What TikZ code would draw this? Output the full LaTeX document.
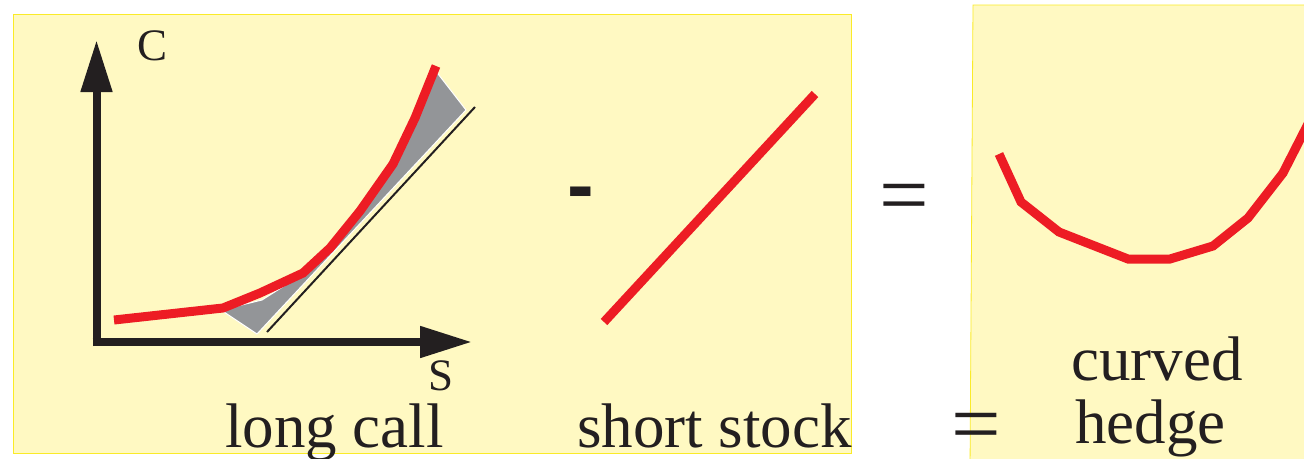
\documentclass[tikz,border=0pt]{standalone}
\usepackage{fontspec}
\setmainfont{Liberation Serif}
\newfontfamily\dashfont{Liberation Sans}
\usetikzlibrary{arrows.meta}
\definecolor{pale}{RGB}{255,249,194}
\definecolor{paleedge}{RGB}{250,235,40}
\definecolor{hred}{RGB}{237,28,36}
\definecolor{gshade}{RGB}{147,149,152}
\definecolor{ink}{RGB}{35,31,32}
\tikzset{
  panel/.style={fill=pale,draw=paleedge,line width=0.8pt},
  redline/.style={draw=hred,line width=9pt,line join=miter},
  axis/.style={draw=ink,line width=8pt,-{Triangle[length=52pt,width=30pt]}},
  lbl/.style={inner sep=0pt,anchor=base west,text=ink,font=\fontsize{63}{70}\selectfont},
  axlbl/.style={inner sep=0pt,anchor=base west,text=ink,font=\fontsize{45}{50}\selectfont},
  eqsign/.style={inner sep=0pt,text=ink,font=\fontsize{88}{90}\selectfont}
}
\begin{document}
\begin{tikzpicture}[x=1pt,y=-1pt]
\useasboundingbox (0,0) rectangle (1304,458);
% panels
\path[panel] (13,14) rectangle (851,453);
\begin{scope}
\clip (0,0) rectangle (1304,458);
\path[panel] (973,5) -- (1310,5) -- (1310,470) -- (970,470) -- cycle;
\end{scope}
% shaded region
\path[fill=gshade,draw=white,line width=1pt] (221,310) -- (262,300) -- (303,274) -- (330,249) -- (360,213) -- (393,166) -- (416,118) -- (435,70) -- (466,110) -- (257,334) -- cycle;
% tangent line
\coordinate (t1) at (267,332);
\coordinate (t2) at (475,107);
\draw[ink,line width=2pt] (t1) -- (t2);
% axes
\coordinate (o) at (96.5,342);
\coordinate (ytip) at (96.5,40);
\coordinate (xtip) at (472,342);
\draw[axis] (96.5,346) -- (ytip);
\draw[axis] (92.5,342) -- (xtip);
\node[axlbl] (clab) at (137,60) {C};
\node[axlbl] (slab) at (428,390) {S};
% call curve
\draw[redline] (114,320) -- (223,308) -- (260,293) -- (303,273) -- (330,248) -- (360,211) -- (393,164) -- (415,118) -- (436,66);
% minus sign
\node[inner sep=0pt,text=ink,font=\dashfont\bfseries\fontsize{80}{80}\selectfont] (minus) at (580.5,200) {-};
% stock line
\coordinate (s1) at (604,322);
\coordinate (s2) at (815,94);
\draw[redline] (s1) -- (s2);
% equals
\node[eqsign] (eq1) at (904,204) {=};
\node[eqsign] (eq2) at (976,433) {=};
% hedge curve
\begin{scope}
\clip (0,0) rectangle (1304,458);
\draw[redline] (999,154) -- (1021,202) -- (1059,232) -- (1128,259) -- (1170,259) -- (1213,246) -- (1248,218) -- (1283,173) -- (1310,120);
\end{scope}
% labels
\node[lbl] (lc) at (225,447) {long call};
\node[lbl] (ss) at (577,447) {short stock};
\node[lbl] (cv) at (1071,380) {curved};
\node[lbl] (hg) at (1075,443) {hedge};
\end{tikzpicture}
\end{document}
